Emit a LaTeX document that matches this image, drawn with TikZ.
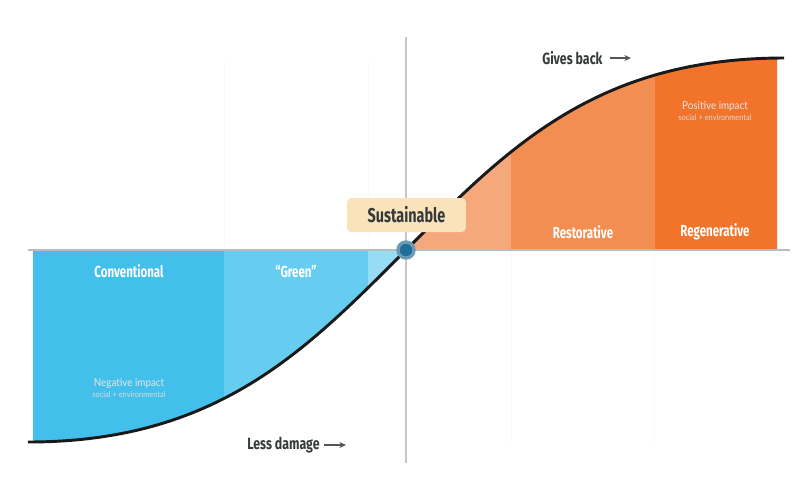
\documentclass[tikz,border=0pt]{standalone}
\usepackage{fontspec}
\setmainfont{Fira Sans}
\newfontfamily\condfont[FakeStretch=0.72]{Fira Sans}
\newfontfamily\axisfont[FakeStretch=0.76]{Fira Sans}
\newfontfamily\lightfont[FakeStretch=0.9]{Lato}
\usetikzlibrary{arrows.meta}

\definecolor{convblue}{RGB}{66,192,235}
\definecolor{greenblue}{RGB}{102,205,240}
\definecolor{paleblue}{RGB}{150,220,244}
\definecolor{paleorange}{RGB}{245,168,124}
\definecolor{restorange}{RGB}{243,142,82}
\definecolor{regenorange}{RGB}{242,116,43}
\definecolor{sustfill}{RGB}{250,227,186}
\definecolor{textdark}{RGB}{52,58,58}
\definecolor{axisgray}{RGB}{184,190,190}
\definecolor{dotdark}{RGB}{30,110,152}
\definecolor{dotring}{RGB}{106,154,184}

\tikzset{
  bandlabel/.style={inner sep=0.75pt, text=white, font=\condfont\bfseries\fontsize{12}{14}\selectfont},
  impactlabel/.style={inner sep=0.75pt, text=white!90!black, font=\lightfont\fontsize{8.2}{9}\selectfont},
  impactsmall/.style={inner sep=0.75pt, text=white!85!black, font=\lightfont\fontsize{6.2}{7}\selectfont},
  axislabel/.style={inner sep=0.75pt, text=textdark, font=\axisfont\bfseries\fontsize{12.2}{14}\selectfont},
  axisarrow/.style={draw=textdark!85, line width=1.1pt, -{Stealth[length=5pt,width=4.5pt]}},
  gridline/.style={draw=black!2, line width=0.6pt},
}

\begin{document}
\begin{tikzpicture}[x=0.75pt,y=0.75pt,yscale=-1,xscale=1]
	\useasboundingbox (0,0) rectangle (812,501);

	%Faint band edges
	\draw[gridline] (224,60) -- (224,248);
	\draw[gridline] (368,60) -- (368,248);
	\draw[gridline] (511,253) -- (511,443);
	\draw[gridline] (654,253) -- (654,443);

	%Shape: blue area, Conventional
	\begin{scope}
	\clip (33,240) rectangle (224,460);
	\fill[convblue] (28,442) .. controls (218,442) and (306,350) .. (406,250) -- (28,250) -- cycle;
	\end{scope}
	%Shape: blue area, Green
	\begin{scope}
	\clip (224,240) rectangle (368,460);
	\fill[greenblue] (28,442) .. controls (218,442) and (306,350) .. (406,250) -- (28,250) -- cycle;
	\end{scope}
	%Shape: blue area, last strip
	\begin{scope}
	\clip (368,240) rectangle (406,460);
	\fill[paleblue] (28,442) .. controls (218,442) and (306,350) .. (406,250) -- (28,250) -- cycle;
	\end{scope}
	%Shape: orange area, first strip
	\begin{scope}
	\clip (406,40) rectangle (511,260);
	\fill[paleorange] (406,250) .. controls (506,150) and (594,58) .. (784,58) -- (784,250) -- cycle;
	\end{scope}
	%Shape: orange area, Restorative
	\begin{scope}
	\clip (511,40) rectangle (655,260);
	\fill[restorange] (406,250) .. controls (506,150) and (594,58) .. (784,58) -- (784,250) -- cycle;
	\end{scope}
	%Shape: orange area, Regenerative
	\begin{scope}
	\clip (655,40) rectangle (777,260);
	\fill[regenorange] (406,250) .. controls (506,150) and (594,58) .. (784,58) -- (784,250) -- cycle;
	\end{scope}

	%Straight Lines: axes
	\draw[axisgray, line width=1.5pt] (28,250) -- (790,250);
	\draw[axisgray!85!white, line width=1.4pt] (406,37) -- (406,463);

	%Curve
	\draw[black!90, line width=2.2pt] (28,442) .. controls (218,442) and (306,350) .. (406,250) .. controls (506,150) and (594,58) .. (784,58);

	% Text Node
	\node[bandlabel] (conv) at (129,271) {Conventional};
	% Text Node
	\node[bandlabel] (green) at (296,271) {“Green”};
	% Text Node
	\node[bandlabel] (resto) at (583,232) {Restorative};
	% Text Node
	\node[bandlabel] (regen) at (715,232) {Regenerative};

	% Text Node
	\node[impactlabel] (negimp) at (129,383) {Negative impact};
	\node[impactsmall] (negsub) at (129,394.5) {social + environmental};
	% Text Node
	\node[impactlabel] (posimp) at (715,106) {Positive impact};
	\node[impactsmall] (possub) at (715,117.5) {social + environmental};

	%Shape: Sustainable box
	\node[fill=sustfill, rounded corners=3pt, minimum width=89pt, minimum height=25.5pt, text=textdark, font=\condfont\bfseries\fontsize{15}{17}\selectfont] (sust) at (406.5,215) {Sustainable};

	%Shape: zero point
	\node[circle, fill=dotdark, draw=dotring, line width=2.5pt, minimum size=12pt, inner sep=0pt] (zero) at (406,250) {};

	% Text Node + arrow
	\node[axislabel, anchor=west] (gives) at (541,58) {Gives back};
	\coordinate (givesend) at (631,58);
	\draw[axisarrow] ([xshift=5pt]gives.east) -- (givesend);
	% Text Node + arrow
	\node[axislabel, anchor=west] (less) at (246,445) {Less damage};
	\coordinate (lessend) at (346,445);
	\draw[axisarrow] ([xshift=2pt]less.east) -- (lessend);

\end{tikzpicture}
\end{document}
